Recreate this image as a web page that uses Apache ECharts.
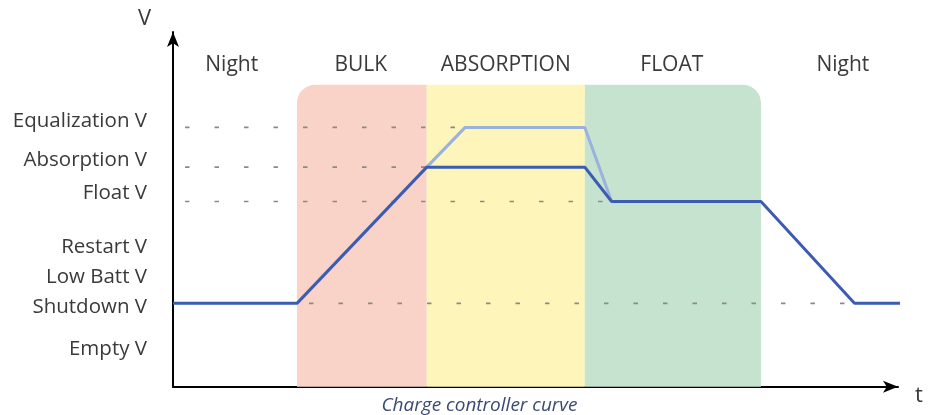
<!DOCTYPE html>
<html>
<head>
<meta charset="utf-8">
<script src="https://cdn.jsdelivr.net/npm/echarts@6/dist/echarts.min.js"></script>
<style>
  html, body { margin: 0; padding: 0; background: #fff; }
  #chart { width: 936px; height: 415px; }
</style>
</head>
<body>
<div id="chart"></div>
<script>
// Time runs 0..100 (arbitrary units), voltage level 0..100 (arbitrary units).
const phaseNames = ['Night', 'BULK', 'ABSORPTION', 'FLOAT', 'Night'];
const phaseLabelT = [8.1, 25.9, 45.9, 68.8, 92.4];
const phaseLabelV = 90.6;

// charging stages shaded behind the curve: start, end, top
const stageStart = [17.1, 35.0, 56.8];
const stageEnd = [35.0, 56.8, 81.1];
const stageTop = 85.1;
const stageColors = ['#f9d3c8', '#fdf5b9', '#c6e3cf'];

// voltage level names on the vertical axis
const levelNames = ['Equalization V', 'Absorption V', 'Float V', 'Restart V', 'Low Batt V', 'Shutdown V', 'Empty V'];
const levelLabelV = [75.0, 64.0, 54.6, 39.3, 30.9, 22.4, 10.6];

// setpoint levels
const equalizationV = 73.1;
const absorptionV = 61.9;
const floatV = 52.2;
const shutdownV = 23.5;

// normal charge cycle
const chargeT = [0, 17.1, 35.0, 56.8, 60.5, 81.1, 94.0, 100.3];
const chargeV = [shutdownV, shutdownV, absorptionV, absorptionV, floatV, floatV, shutdownV, shutdownV];

// equalization cycle (overrides the absorption plateau)
const equalizeT = [35.0, 40.3, 56.8, 60.5];
const equalizeV = [absorptionV, equalizationV, equalizationV, floatV];

// dotted guides: [from t, to t, level]
const guideFrom = [0, 0, 0, 17.1];
const guideTo = [40.3, 35.0, 60.5, 94.0];
const guideLevel = [equalizationV, absorptionV, floatV, shutdownV];

const FONT = '"Open Sans", Lato, sans-serif';
const TEXT = '#3a3a3a';

const chart = echarts.init(document.getElementById('chart'));

const zip = (a, b) => a.map((v, i) => [v, b[i]]);

const guideSeries = guideLevel.map((lv, i) => ({
  type: 'line',
  z: 3,
  silent: true,
  symbol: 'none',
  clip: false,
  data: [[guideFrom[i], lv], [guideTo[i], lv]],
  lineStyle: { color: '#8a8a8a', width: 1.6, type: [4.5, 25], dashOffset: 17.5 }
}));

chart.setOption({
  animation: false,
  grid: { left: 173, right: 38, top: 32, bottom: 28.3 },
  xAxis: {
    type: 'value', min: 0, max: 100,
    splitLine: { show: false }, axisTick: { show: false }, axisLabel: { show: false },
    axisLine: { show: true, onZero: false, symbol: ['none', 'arrow'], symbolSize: [9, 15],
      lineStyle: { color: '#000', width: 2 } }
  },
  yAxis: {
    type: 'value', min: 0, max: 100,
    splitLine: { show: false }, axisTick: { show: false },
    axisLine: { show: true, onZero: false, symbol: ['none', 'arrow'], symbolSize: [9, 15],
      lineStyle: { color: '#000', width: 2 } },
    axisLabel: {
      show: true,
      customValues: levelLabelV,
      margin: 26,
      color: TEXT,
      fontFamily: FONT,
      fontSize: 20.5,
      formatter: function (v) {
        let best = 0;
        levelLabelV.forEach((lv, i) => { if (Math.abs(lv - v) < Math.abs(levelLabelV[best] - v)) best = i; });
        return levelNames[best];
      }
    }
  },
  title: {
    text: 'Charge controller curve',
    left: 474.5, top: 391,
    textAlign: 'center',
    textStyle: { fontFamily: FONT, fontSize: 19, fontStyle: 'italic', fontWeight: 'normal', color: '#3b4a72' }
  },
  graphic: [
    { type: 'text', left: 138, top: 8, style: { text: 'V', font: '22px ' + FONT, fill: TEXT } },
    { type: 'text', left: 915, top: 385, style: { text: 't', font: '22px ' + FONT, fill: TEXT } }
  ],
  series: [
    {
      type: 'custom',
      z: 1,
      silent: true,
      data: stageStart.map((s, i) => [s, stageEnd[i], stageTop]),
      renderItem: function (params, api) {
        const i = params.dataIndex;
        const p0 = api.coord([api.value(0), api.value(2)]);
        const p1 = api.coord([api.value(1), 0]);
        let r = 0;
        if (i === 0) r = [18, 0, 0, 0];
        if (i === stageStart.length - 1) r = [0, 18, 0, 0];
        return {
          type: 'rect',
          shape: { x: p0[0], y: p0[1], width: p1[0] - p0[0], height: p1[1] - p0[1], r: r },
          style: { fill: stageColors[i] }
        };
      }
    },
    {
      type: 'custom',
      z: 2,
      silent: true,
      data: phaseLabelT.map((t, i) => [t, phaseLabelV, i]),
      renderItem: function (params, api) {
        const p = api.coord([api.value(0), api.value(1)]);
        return {
          type: 'text',
          x: p[0], y: p[1],
          style: {
            text: phaseNames[api.value(2)],
            font: '21px ' + FONT,
            fill: TEXT,
            align: 'center',
            verticalAlign: 'middle'
          }
        };
      }
    },
    ...guideSeries,
    {
      type: 'line',
      z: 4,
      silent: true,
      symbol: 'none',
      clip: false,
      data: zip(equalizeT, equalizeV),
      lineStyle: { color: '#9bb1de', width: 3 }
    },
    {
      type: 'line',
      z: 5,
      silent: true,
      symbol: 'none',
      clip: false,
      data: zip(chargeT, chargeV),
      lineStyle: { color: '#3b5cb2', width: 3 }
    }
  ]
});
</script>
</body>
</html>
